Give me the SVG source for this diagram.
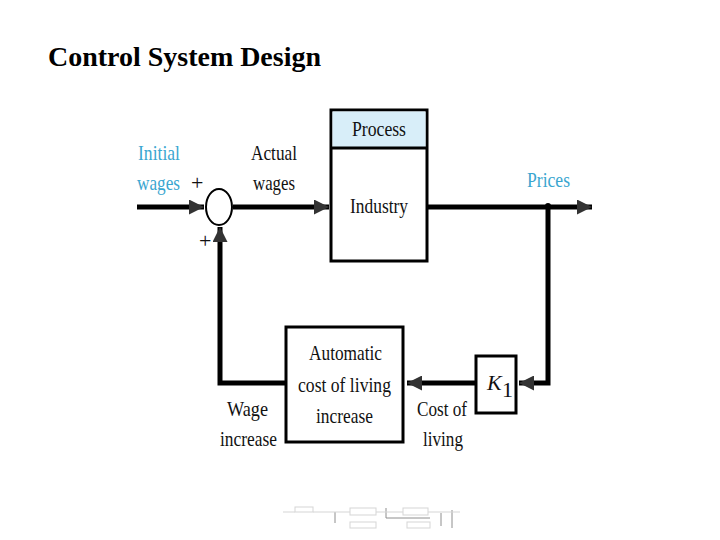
<svg xmlns="http://www.w3.org/2000/svg" width="720" height="540" viewBox="0 0 720 540">
<defs>
<marker id="ah" viewBox="0 0 10 10" refX="10" refY="5" markerWidth="3" markerHeight="3" orient="auto" markerUnits="strokeWidth"><path d="M0,0 L10,5 L0,10 z" fill="#333"/></marker>
<style>
.t{font-family:"Liberation Serif","Times New Roman",serif;font-size:22px;fill:#111}
.b{fill:#3aa6d0}
.ln{fill:none;stroke:#000;stroke-width:5}
.bx{fill:#fff;stroke:#000;stroke-width:3}
.f{fill:none;stroke:#bbb;stroke-width:1}
</style>
</defs>
<rect width="720" height="540" fill="#fff"/>
<text x="48" y="66" textLength="273" lengthAdjust="spacingAndGlyphs" style="font-family:'Liberation Serif','Times New Roman',serif;font-size:27px;font-weight:bold">Control System Design</text>
<g id="connectors">
<path class="ln" d="M137,207 H204" marker-end="url(#ah)"/>
<path class="ln" d="M233,207 H329" marker-end="url(#ah)"/>
<path class="ln" d="M428,207 H592" marker-end="url(#ah)"/>
<path class="ln" d="M548,207 V383 H519" marker-end="url(#ah)"/>
<path class="ln" d="M475,383 H407" marker-end="url(#ah)"/>
<path class="ln" d="M285,383 H220 V227" marker-end="url(#ah)"/>
<circle cx="548" cy="206" r="3" fill="#000"/>
</g>
<g id="sum">
<ellipse cx="219" cy="207" rx="13" ry="18" fill="#fff" stroke="#000" stroke-width="2"/>
<text class="t" x="191" y="190" font-size="17">+</text>
<text class="t" x="199" y="248" font-size="18">+</text>
</g>
<g id="process">
<rect class="bx" x="331" y="110" width="96" height="151"/>
<rect x="332.5" y="111.5" width="93" height="36" fill="#d8eef9"/>
<line x1="331" y1="148" x2="427" y2="148" stroke="#000" stroke-width="3"/>
<text class="t" x="352" y="136" textLength="54" lengthAdjust="spacingAndGlyphs">Process</text>
<text class="t" x="350" y="213" textLength="58" lengthAdjust="spacingAndGlyphs">Industry</text>
</g>
<g id="k1">
<rect class="bx" x="476" y="356" width="40" height="57"/>
<text class="t" x="487" y="390" font-style="italic">K</text>
<text class="t" x="502" y="397" font-size="14">1</text>
</g>
<g id="auto">
<rect class="bx" x="286" y="327" width="117" height="115"/>
<text class="t" x="309" y="360" textLength="73" lengthAdjust="spacingAndGlyphs">Automatic</text>
<text class="t" x="298" y="392" textLength="93" lengthAdjust="spacingAndGlyphs">cost of living</text>
<text class="t" x="316" y="423" textLength="57" lengthAdjust="spacingAndGlyphs">increase</text>
</g>
<g id="labels">
<text class="t b" x="138" y="160" textLength="42" lengthAdjust="spacingAndGlyphs">Initial</text>
<text class="t b" x="137" y="190" textLength="43" lengthAdjust="spacingAndGlyphs">wages</text>
<text class="t" x="251" y="160" textLength="46" lengthAdjust="spacingAndGlyphs">Actual</text>
<text class="t" x="253" y="190" textLength="42" lengthAdjust="spacingAndGlyphs">wages</text>
<text class="t b" x="527" y="187" textLength="43" lengthAdjust="spacingAndGlyphs">Prices</text>
<text class="t" x="227" y="416" textLength="41" lengthAdjust="spacingAndGlyphs">Wage</text>
<text class="t" x="220" y="446" textLength="57" lengthAdjust="spacingAndGlyphs">increase</text>
<text class="t" x="417" y="416" textLength="50" lengthAdjust="spacingAndGlyphs">Cost of</text>
<text class="t" x="423" y="446" textLength="40" lengthAdjust="spacingAndGlyphs">living</text>
</g>
<g id="thumbnail" opacity="0.6">
<rect class="f" x="295" y="507" width="18" height="5"/>
<rect class="f" x="350" y="508" width="26" height="7"/>
<rect class="f" x="350" y="522" width="26" height="6"/>
<rect class="f" x="403" y="508" width="25" height="7"/>
<rect class="f" x="407" y="522" width="23" height="6"/>
<path d="M335,512 V523 M386,508 V518 H430 M441,513 V526 M452,510 V528" fill="none" stroke="#444" stroke-width="1"/>
<path class="f" d="M283,512 H295 M313,512 H350 M376,512 H403 M428,512 H460"/>
</g>
</svg>
